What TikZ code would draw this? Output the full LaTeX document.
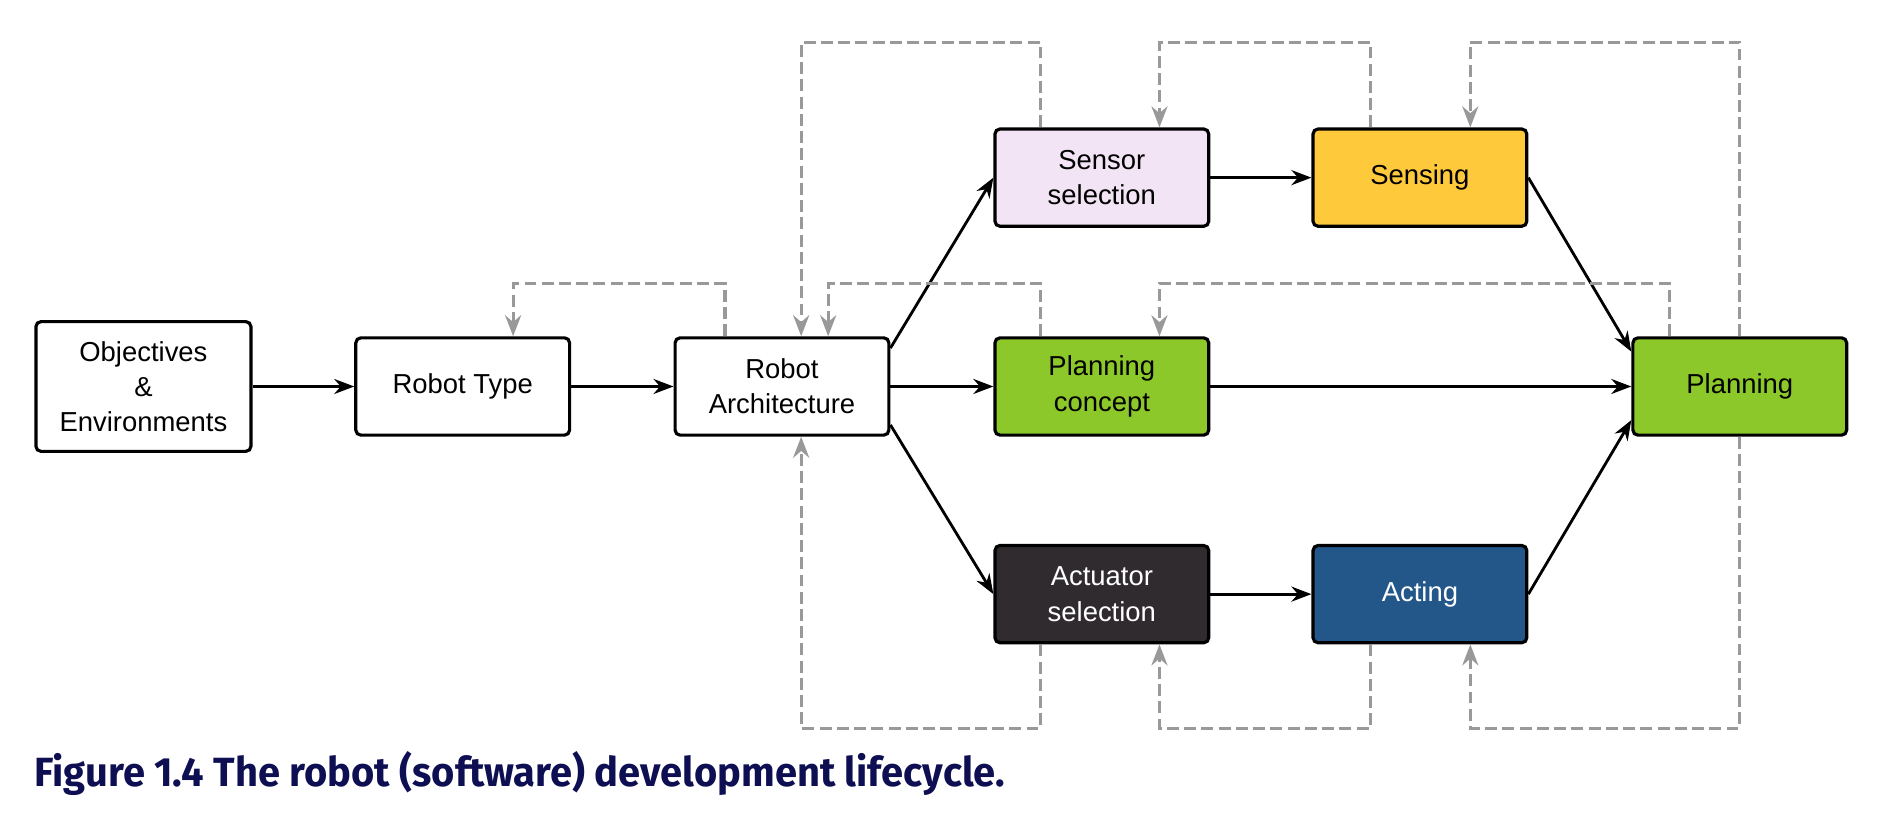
\documentclass[tikz,border=0pt]{standalone}
\usepackage{fontspec}
\setmainfont{Liberation Sans}
\newfontfamily\capfont{Fira Sans}
\usetikzlibrary{arrows.meta,calc}
\definecolor{selpink}{HTML}{F2E4F4}
\definecolor{senseyellow}{HTML}{FFC93C}
\definecolor{plangreen}{HTML}{8DC82A}
\definecolor{actdark}{HTML}{302B2F}
\definecolor{actblue}{HTML}{23578A}
\definecolor{fbgrey}{HTML}{999999}
\definecolor{capnavy}{HTML}{0E0E52}
\tikzset{
  box/.style={draw=black, line width=0.9pt, rounded corners=0.05cm, align=center,
    minimum width=2.136cm, minimum height=0.972cm, inner sep=0pt,
    font=\fontsize{7.8}{10}\selectfont},
  flow/.style={line width=0.8pt, -{Stealth[length=0.2cm,width=0.15cm]}},
  fb/.style={fbgrey, line width=0.9pt, dash pattern=on 3.4pt off 1.5pt,
    -{Stealth[length=0.21cm,width=0.16cm,fill=fbgrey!90!black]}}
}
\begin{document}
\begin{tikzpicture}[x=0.012cm,y=-0.012cm]
  \useasboundingbox (0,0) rectangle (1568,686);
  \node[box, minimum width=2.148cm, minimum height=1.296cm] (obj) at (119.5,322) {Objectives\\\&\\Environments};
  \node[box] (rtype) at (385.5,322) {Robot Type};
  \node[box] (arch) at (651.5,322) {Robot\\Architecture};
  \node[box, fill=selpink] (sensel) at (918,148) {Sensor\\selection};
  \node[box, fill=senseyellow] (sensing) at (1183,148) {Sensing};
  \node[box, fill=plangreen] (plcon) at (918,322) {Planning\\concept};
  \node[box, fill=plangreen] (plan) at (1449.5,322) {Planning};
  \node[box, fill=actdark, text=white] (actsel) at (918,495) {Actuator\\selection};
  \node[box, fill=actblue, text=white] (acting) at (1183,495) {Acting};
  \draw[flow] (obj) -- (rtype);
  \draw[flow] (rtype) -- (arch);
  \draw[flow] (arch) -- (plcon);
  \draw[flow] ($(arch.east)+(0,-32)$) -- (sensel.west);
  \draw[flow] ($(arch.east)+(0,32)$) -- (actsel.west);
  \draw[flow] (sensel) -- (sensing);
  \draw[flow] (actsel) -- (acting);
  \draw[flow] (plcon) -- (plan);
  \draw[flow] (sensing.east) -- ($(plan.west)+(0,-29)$);
  \draw[flow] (acting.east) -- ($(plan.west)+(0,28)$);
  \draw[fb] ($(sensel.north)+(-51,0)$) -- ++(0,-71) -| ($(arch.north)+(16,0)$);
  \draw[fb] ($(sensing.north)+(-41,0)$) -- ++(0,-71) -| ($(sensel.north)+(48,0)$);
  \draw[fb] (plan.north) -- ++(0,-245) -| ($(sensing.north)+(42,0)$);
  \draw[fb] ($(arch.north)+(-47.5,0)$) -- ++(0,-44) -| ($(rtype.north)+(42,0)$);
  \draw[fb] ($(plcon.north)+(-51,0)$) -- ++(0,-44) -| ($(arch.north)+(38.5,0)$);
  \draw[fb] ($(plan.north)+(-58.5,0)$) -- ++(0,-44) -| ($(plcon.north)+(48,0)$);
  \draw[fb] ($(actsel.south)+(-51,0)$) -- ++(0,70) -| ($(arch.south)+(16,0)$);
  \draw[fb] ($(acting.south)+(-41,0)$) -- ++(0,70) -| ($(actsel.south)+(48,0)$);
  \draw[fb] (plan.south) -- ++(0,243) -| ($(acting.south)+(42,0)$);
  \node[anchor=base west, inner sep=0pt, text=capnavy] (caption) at (28,655)
    {\resizebox{9.7cm}{\height}{\capfont\bfseries\fontsize{11.6}{13}\selectfont Figure 1.4 The robot (software) development lifecycle.}};
\end{tikzpicture}
\end{document}
